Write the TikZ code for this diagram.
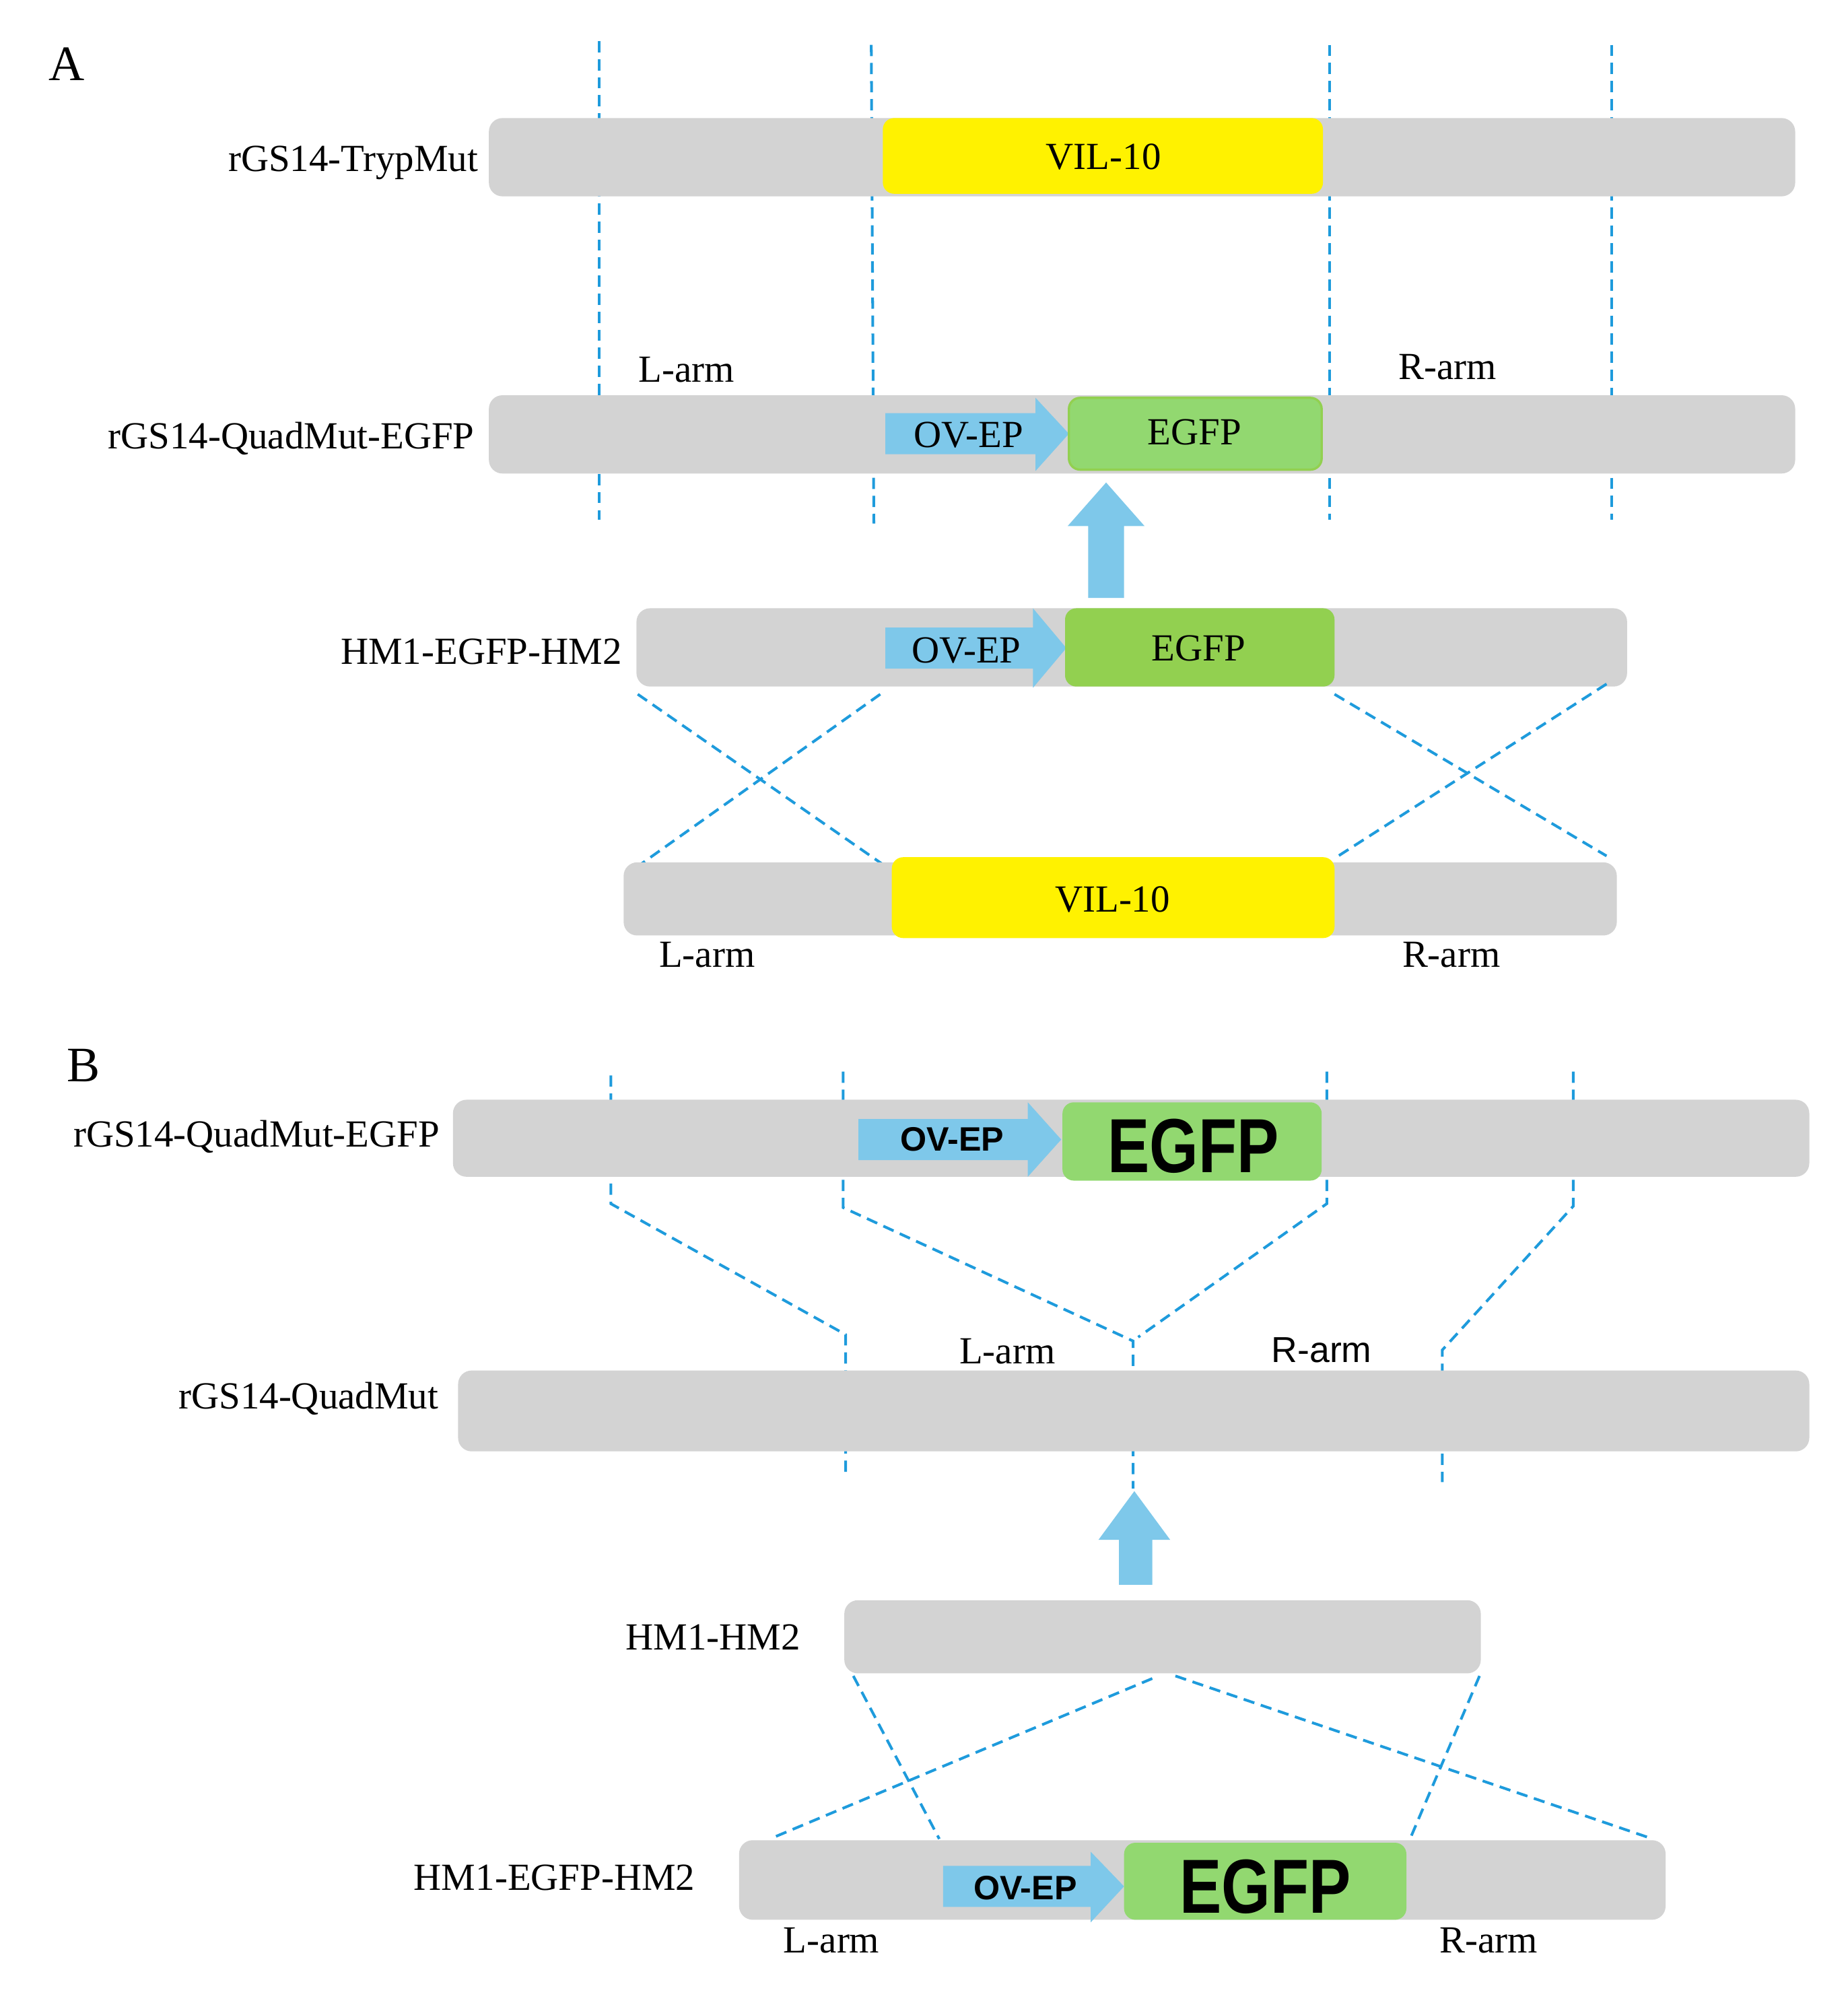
\documentclass[tikz,border=0pt]{standalone}
\usepackage{fontspec}
\setmainfont{Liberation Serif}
\newfontfamily\sansf{Liberation Sans}
\begin{document}
\begin{tikzpicture}[x=0.02cm,y=-0.02cm,
 bar/.style={fill=barg,rounded corners=6pt},
 yel/.style={fill=yellow,rounded corners=5pt},
 grn/.style={fill=egfpg,rounded corners=5pt},
 dl/.style={draw=dashb,line width=1.2pt,dash pattern=on 5pt off 3pt},
 lab/.style={font=\fontsize{17}{20}\selectfont,inner sep=0pt},
 lbl/.style={lab,anchor=east},
 sl/.style={font=\sansf\fontsize{15}{18}\selectfont,inner sep=0pt},
 big/.style={font=\sansf\bfseries\fontsize{34}{38}\selectfont,xscale=0.82,inner sep=0pt}]
\definecolor{barg}{HTML}{D3D3D3}
\definecolor{dashb}{HTML}{1E9BDC}
\definecolor{arrb}{HTML}{7EC8EA}
\definecolor{egfpg}{HTML}{92D870}
\definecolor{egfpd}{HTML}{92D050}
\useasboundingbox (0,0) rectangle (1440,1564);
\newcommand{\ovarrow}[5]{% x1 x2 yt yb ymid
 \fill[arrb] (#1,#5-16) -- (#2-26,#5-16) -- (#2-26,#3) -- (#2,#5) -- (#2-26,#4) -- (#2-26,#5+16) -- (#1,#5+16) -- cycle;}
% ---- A
\node[font=\fontsize{22}{24}\selectfont] (A) at (52,50) {A};
\draw[dl] (467,32) -- (467,405);
\draw[dl] (679,35) -- (681,408);
\draw[dl] (1036,35) -- (1036,405);
\draw[dl] (1256,35) -- (1256,405);
\fill[bar] (381,92) rectangle (1399,153);
\fill[yel] (688,92) rectangle (1031,151);
\node[lab] (v1) at (860,122) {VIL-10};
\node[lbl] (l1) at (373,127) {rGS14-TrypMut};
\node[lab] (la1) at (535,288) {L-arm};
\node[lab] (ra1) at (1128,286) {R-arm};
\fill[bar] (381,308) rectangle (1399,369);
\ovarrow{690}{833}{310}{367}{338}
\fill[grn,draw=egfpd,line width=1pt] (833,310) rectangle (1030,366);
\node[lab] (o2) at (755,339) {OV-EP};
\node[lab] (e2) at (931,337) {EGFP};
\node[lbl] (l2) at (370,342) {rGS14-QuadMut-EGFP};
\fill[arrb] (848,466) -- (848,410) -- (832,410) -- (862,376) -- (892,410) -- (876,410) -- (876,466) -- cycle;
\fill[bar] (496,474) rectangle (1268,535);
\ovarrow{690}{831}{474}{536}{505}
\fill[fill=egfpd,rounded corners=5pt] (830,474) rectangle (1040,535);
\node[lab] (o3) at (753,507) {OV-EP};
\node[lab] (e3) at (934,505) {EGFP};
\node[lbl] (l3) at (485,508) {HM1-EGFP-HM2};
\draw[dl] (497,541) -- (690,675);
\draw[dl] (686,541) -- (500,673);
\draw[dl] (1040,541) -- (1252,667);
\draw[dl] (1252,533) -- (1043,667);
\fill[bar] (486,672) rectangle (1260,729);
\fill[yel] (695,668) rectangle (1040,731);
\node[lab] (v4) at (867,701) {VIL-10};
\node[lab] (la4) at (551,744) {L-arm};
\node[lab] (ra4) at (1131,744) {R-arm};
% ---- B
\node[font=\fontsize{22}{24}\selectfont] (B) at (65,830) {B};
\draw[dl] (476,838) -- (476,938) -- (659,1040) -- (659,1150);
\draw[dl] (657,835) -- (657,941) -- (883,1045) -- (883,1160);
\draw[dl] (1034,835) -- (1034,938) -- (887,1042);
\draw[dl] (1226,835) -- (1226,940) -- (1124,1052) -- (1124,1155);
\fill[bar] (353,857) rectangle (1410,917);
\ovarrow{669}{827}{859}{917}{888}
\fill[grn] (828,859) rectangle (1030,920);
\node[sl,font=\sansf\bfseries\fontsize{15}{18}\selectfont] (o5) at (742,888) {OV-EP};
\node[big] (e5) at (930,893) {EGFP};
\node[lbl] (l5) at (343,886) {rGS14-QuadMut-EGFP};
\fill[bar] (357,1068) rectangle (1410,1131);
\node[lbl] (l6) at (342,1090) {rGS14-QuadMut};
\node[lab] (la6) at (785,1053) {L-arm};
\node[sl,font=\sansf\fontsize{16}{18}\selectfont] (ra6) at (1030,1052) {R-arm};
\fill[arrb] (872,1235) -- (872,1200) -- (856,1200) -- (884,1162) -- (912,1200) -- (898,1200) -- (898,1235) -- cycle;
\fill[bar] (658,1247) rectangle (1154,1304);
\node[lbl] (l7) at (624,1276) {HM1-HM2};
\draw[dl] (665,1306) -- (732,1433);
\draw[dl] (898,1308) -- (600,1433);
\draw[dl] (916,1306) -- (1285,1432);
\draw[dl] (1153,1306) -- (1098,1435);
\fill[bar] (576,1434) rectangle (1298,1496);
\ovarrow{735}{876}{1443}{1498}{1470}
\fill[grn] (876,1436) rectangle (1096,1496);
\node[sl,font=\sansf\bfseries\fontsize{15}{18}\selectfont] (o8) at (799,1471) {OV-EP};
\node[big] (e8) at (986,1470) {EGFP};
\node[lbl] (l8) at (542,1463) {HM1-EGFP-HM2};
\node[lab] (la8) at (648,1512) {L-arm};
\node[lab] (ra8) at (1160,1512) {R-arm};
\end{tikzpicture}
\end{document}
